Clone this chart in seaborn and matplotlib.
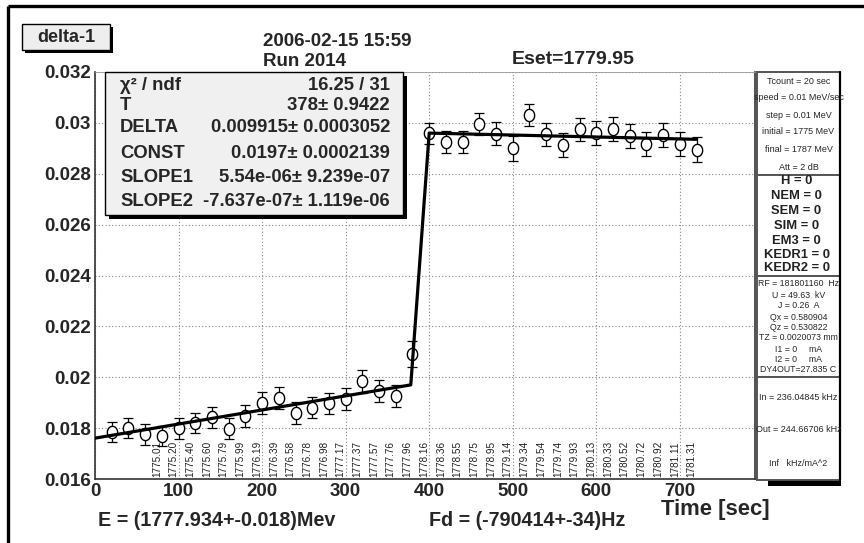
import numpy as np
import pandas as pd
import matplotlib
matplotlib.use("Agg")
import matplotlib.pyplot as plt
from matplotlib.patches import Rectangle
from matplotlib.path import Path
from matplotlib.ticker import MultipleLocator, FixedLocator, FixedFormatter
import seaborn as sns

# ---- measured points: time [s], delta value, statistical error ----
time_s = [20, 40, 60, 80, 100, 120, 140, 160, 180, 200, 220, 240, 260, 280,
          300, 320, 340, 360, 380, 400, 420, 440, 460, 480, 500, 520, 540,
          560, 580, 600, 620, 640, 660, 680, 700, 720]
delta = [0.01785, 0.01801, 0.01775, 0.01770, 0.01799, 0.01820, 0.01842,
         0.01797, 0.01847, 0.01900, 0.01918, 0.01860, 0.01881, 0.01897,
         0.01914, 0.01985, 0.01946, 0.01927, 0.02091, 0.02959, 0.02926,
         0.02926, 0.02996, 0.02957, 0.02900, 0.03031, 0.02955, 0.02913,
         0.02975, 0.02959, 0.02976, 0.02949, 0.02916, 0.02953, 0.02916,
         0.02894]
delta_err = [0.00040, 0.00040, 0.00041, 0.00040, 0.00041, 0.00041, 0.00042,
             0.00041, 0.00042, 0.00043, 0.00043, 0.00042, 0.00043, 0.00043,
             0.00044, 0.00045, 0.00044, 0.00044, 0.00050, 0.00042, 0.00043,
             0.00043, 0.00044, 0.00045, 0.00048, 0.00045, 0.00046, 0.00047,
             0.00046, 0.00047, 0.00047, 0.00047, 0.00048, 0.00048, 0.00048,
             0.00049]

# beam energy at each scan step (MeV)
energy_times = list(range(80, 721, 20))
energy_labels = ["1775.01", "1775.20", "1775.40", "1775.60", "1775.79",
                 "1775.99", "1776.19", "1776.39", "1776.58", "1776.78",
                 "1776.98", "1777.17", "1777.37", "1777.57", "1777.76",
                 "1777.96", "1778.16", "1778.36", "1778.55", "1778.75",
                 "1778.95", "1779.14", "1779.34", "1779.54", "1779.74",
                 "1779.93", "1780.13", "1780.33", "1780.52", "1780.72",
                 "1780.92", "1781.11", "1781.31"]

# fit result
FIT_T = 378.0
FIT_DELTA = 0.009915
FIT_CONST = 0.0197
FIT_SLOPE1 = 5.54e-06
FIT_SLOPE2 = -7.637e-07
STEP_WIDTH = 22.0
FIT_RANGE = (0.0, 720.0)

stats_rows = [("\u03c7\u00b2 / ndf", "16.25 / 31"),
              ("T", "378\u00b1 0.9422"),
              ("DELTA", "0.009915\u00b1 0.0003052"),
              ("CONST", "0.0197\u00b1 0.0002139"),
              ("SLOPE1", "5.54e-06\u00b1 9.239e-07"),
              ("SLOPE2", "-7.637e-07\u00b1 1.119e-06")]

info_setup = ["Tcount = 20 sec", "speed = 0.01 MeV/sec", "step = 0.01 MeV",
              "initial = 1775 MeV", "final = 1787 MeV", "Att = 2 dB"]
info_flags = ["H = 0", "NEM = 0", "SEM = 0", "SIM = 0", "EM3 = 0",
              "KEDR1 = 0", "KEDR2 = 0"]
info_beam = ["RF = 181801160  Hz", "U = 49.63  kV", "J = 0.26  A",
             "Qx = 0.580904", "Qz = 0.530822", "TZ = 0.0020073 mm",
             "I1 = 0     mA", "I2 = 0     mA", "DY4OUT=27.835 C"]
info_freq = ["In = 236.04845 kHz", "Out = 244.66706 kHz", "Inf   kHz/mA^2"]

yticks = [0.016, 0.018, 0.020, 0.022, 0.024, 0.026, 0.028, 0.030, 0.032]
ytick_labels = ["0.016", "0.018", "0.02", "0.022", "0.024", "0.026",
                "0.028", "0.03", "0.032"]


def fit_curve(t):
    t = np.asarray(t, dtype=float)
    low = FIT_CONST + FIT_SLOPE1 * (t - FIT_T)
    high = FIT_CONST + FIT_DELTA + FIT_SLOPE2 * (t - FIT_T)
    frac = np.clip((t - FIT_T) / STEP_WIDTH, 0.0, 1.0)
    return low + (high - low) * frac


sns.set_theme(style="white")
plt.rcParams["font.family"] = ["Liberation Sans", "DejaVu Sans"]

W, H = 864, 543
fig = plt.figure(figsize=(W / 100, H / 100), dpi=100)
fig.patch.set_facecolor("white")

PL, PR, PB, PT = 95, 755, 479, 72
ax = fig.add_axes([PL / W, 1 - PB / H, (PR - PL) / W, (PB - PT) / H])
ax.set_facecolor("white")

df = pd.DataFrame({"t": time_s, "d": delta, "e": delta_err})

t_fit = np.array([FIT_RANGE[0], FIT_T, FIT_T + STEP_WIDTH, FIT_RANGE[1]])
fit_df = pd.DataFrame({"t": t_fit, "d": fit_curve(t_fit)})

ax.errorbar(df["t"], df["d"], yerr=df["e"], fmt="none", ecolor="black",
            elinewidth=0.9, capsize=3.5, capthick=0.9, zorder=3)

theta = np.linspace(0, 2 * np.pi, 40)
ellipse = Path(np.column_stack([0.42 * np.cos(theta), 0.5 * np.sin(theta)]),
               closed=True)
sns.scatterplot(data=df, x="t", y="d", marker=ellipse, s=78,
                facecolor="white", edgecolor="black", linewidth=1.0,
                zorder=4, ax=ax, legend=False)
sns.lineplot(data=fit_df, x="t", y="d", color="black", lw=2.3,
             zorder=5, ax=ax, legend=False)

for t, lab in zip(energy_times, energy_labels):
    ax.text(t, 0.01606, lab, rotation=90, ha="right", va="bottom",
            fontsize=7.2, color="#222222", zorder=2)

ax.set_xlim(0, 790)
ax.set_ylim(0.016, 0.032)
ax.xaxis.set_major_locator(MultipleLocator(100))
ax.xaxis.set_minor_locator(MultipleLocator(20))
ax.yaxis.set_major_locator(FixedLocator(yticks))
ax.yaxis.set_major_formatter(FixedFormatter(ytick_labels))
ax.yaxis.set_minor_locator(MultipleLocator(0.0004))
ax.grid(True, which="major", linestyle=(0, (1, 2)), color="#888888", lw=0.8)
ax.tick_params(which="major", direction="in", length=14, width=1.0,
               color="#333333", labelsize=13.5, pad=3)
ax.tick_params(which="minor", direction="in", length=6.5, width=1.0,
               color="#333333")
ax.tick_params(axis="x", which="major", length=10)
ax.tick_params(axis="x", which="minor", length=4)
for lab in ax.get_xticklabels() + ax.get_yticklabels():
    lab.set_fontweight("bold")
ax.set_xlabel("")
ax.set_ylabel("")
for side in ("left", "bottom"):
    ax.spines[side].set_color("#333333")
    ax.spines[side].set_linewidth(1.2)
ax.spines["top"].set_color("#999999")
ax.spines["top"].set_linewidth(0.6)
ax.spines["right"].set_color("#333333")
ax.spines["right"].set_linewidth(1.2)

# ---- overlay in pixel coordinates for the frames and text panes ----
ov = fig.add_axes([0, 0, 1, 1], zorder=10)
ov.set_xlim(0, W)
ov.set_ylim(H, 0)
ov.axis("off")
ov.patch.set_alpha(0)

# canvas border
ov.plot([8, W], [6, 6], color="black", lw=2.4, solid_capstyle="butt")
ov.plot([8, 8], [6, H], color="black", lw=2.4, solid_capstyle="butt")

# histogram name tag
ov.add_patch(Rectangle((25, 27), 88, 26, fc="black", ec="none"))
ov.add_patch(Rectangle((22, 24), 88, 26, fc="#eeeeee", ec="black", lw=1))
ov.text(66, 37, "delta-1", ha="center", va="center", fontsize=13,
        fontweight="bold")

ov.text(263, 41, "2006-02-15 15:59", ha="left", va="center", fontsize=13.5,
        fontweight="bold")
ov.text(263, 61, "Run 2014", ha="left", va="center", fontsize=13.5,
        fontweight="bold")
ov.text(512, 60, "Eset=1779.95", ha="left", va="center", fontsize=14,
        fontweight="bold")

# fit statistics box
ov.add_patch(Rectangle((109, 76), 298, 143, fc="black", ec="none"))
ov.add_patch(Rectangle((105, 72), 298, 143, fc="#f0f0f0", ec="black", lw=1))
row_y = [85, 105, 128, 153, 178, 202]
for (name, val), yy in zip(stats_rows, row_y):
    ov.text(120, yy, name, ha="left", va="center", fontsize=13.3,
            fontweight="bold")
    ov.text(390, yy, val, ha="right", va="center", fontsize=13.3,
            fontweight="bold")

# right-hand information panel
BX0, BX1 = 757, 840
sections = [(72, 175), (175, 276), (276, 377), (377, 480)]
ov.add_patch(Rectangle((768, 480), 73, 6, fc="black", ec="none"))
for y0, y1 in sections:
    ov.add_patch(Rectangle((BX0, y0), BX1 - BX0, y1 - y0, fc="white",
                           ec="#555555", lw=1.4))
ov.plot([BX1, BX1], [72, 480], color="black", lw=1.6)
clip_rect = Rectangle((BX0 + 1, 72), BX1 - BX0 - 2, 408,
                      transform=ov.transData, fc="none", ec="none")
ov.add_patch(clip_rect)
cx = (BX0 + BX1) / 2

for s, yy in zip(info_setup, [82, 98, 115, 132, 149, 167]):
    tx = ov.text(cx, yy, s, ha="center", va="center", fontsize=6.5)
    tx.set_clip_path(clip_rect)
for s, yy in zip(info_flags, [181, 196, 211, 226, 241, 255, 268]):
    ov.text(cx - 2, yy, s, ha="center", va="center", fontsize=9.4,
            fontweight="bold", color="#222222")
for s, yy in zip(info_beam, [283, 295, 306, 317, 327, 338, 349, 360, 370]):
    tx = ov.text(cx, yy, s, ha="center", va="center", fontsize=6.3)
    tx.set_clip_path(clip_rect)
for s, yy in zip(info_freq, [397, 429, 464]):
    tx = ov.text(cx, yy, s, ha="center", va="center", fontsize=6.5)
    tx.set_clip_path(clip_rect)

# fitted quantities below the axis
ov.text(98, 520, "E = (1777.934+-0.018)Mev", ha="left", va="center",
        fontsize=14.2, fontweight="bold")
ov.text(429, 520, "Fd = (-790414+-34)Hz", ha="left", va="center",
        fontsize=14.2, fontweight="bold")
ov.text(770, 510, "Time [sec]", ha="right", va="center", fontsize=15.8,
        fontweight="bold")

fig.savefig("out.png", dpi=100)
